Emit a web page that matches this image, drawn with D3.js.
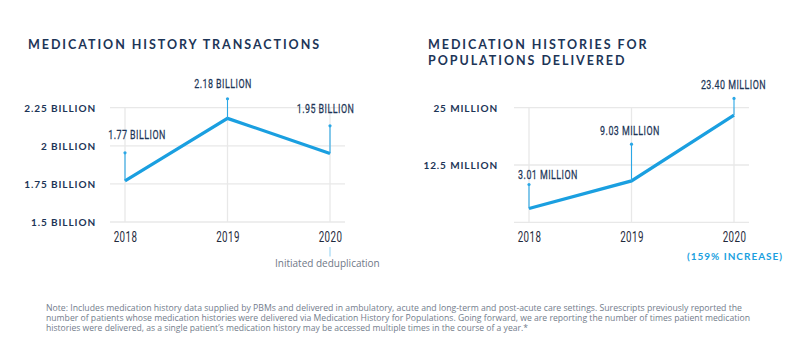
<!DOCTYPE html>
<html>
<head>
<meta charset="utf-8">
<script src="https://cdn.jsdelivr.net/npm/d3@7/dist/d3.min.js"></script>
<style>
  html, body { margin: 0; padding: 0; background: #ffffff; }
  svg { display: block; }
</style>
</head>
<body>
<svg id="chart" width="800" height="362"></svg>
<script>
// ---------------- DATA ----------------
const years = ["2018", "2019", "2020"];

const transactionsValues = [1.77, 2.18, 1.95];          // billions
const transactionsTicks = [1.5, 1.75, 2, 2.25];
const transactionsTickLabels = ["1.5 BILLION", "1.75 BILLION", "2 BILLION", "2.25 BILLION"];

const populationsValues = [3.01, 9.03, 23.40];          // millions
const populationsTicks = [0, 12.5, 25];
const populationsTickLabels = ["", "12.5 MILLION", "25 MILLION"];

const titleLeft = ["MEDICATION HISTORY TRANSACTIONS"];
const titleRight = ["MEDICATION HISTORIES FOR", "POPULATIONS DELIVERED"];
const noteLeft = "Initiated deduplication";
const noteRight = "(159% INCREASE)";
const footnoteLines = [
  "Note: Includes medication history data supplied by PBMs and delivered in ambulatory, acute and long-term and post-acute care settings. Surescripts previously reported the",
  "number of patients whose medication histories were delivered via Medication History for Populations. Going forward, we are reporting the number of times patient medication",
  "histories were delivered, as a single patient\u2019s medication history may be accessed multiple times in the course of a year.*"
];

// ---------------- STYLE ----------------
const NAVY = "#1d3557";
const YEAR = "#1f2a3c";
const BLUE = "#1a9fe0";
const PIN = "#2aa7e6";
const GRID = "#e8e8e8";
const GRAY = "#6f7887";
const CONDENSED = "Roboto, 'DejaVu Sans', sans-serif";
const GEO = "Lato, 'Open Sans', sans-serif";

const svg = d3.select("#chart");

function drawChart(cfg) {
  const g = svg.append("g");
  const x = d3.scalePoint().domain(years).range([cfg.x0, cfg.x1]);
  const y = d3.scaleLinear().domain(cfg.domain).range([cfg.yBottom, cfg.yTop]);

  // title
  const title = g.append("text")
    .attr("x", cfg.titleX).attr("y", cfg.titleY)
    .attr("fill", NAVY)
    .style("font-family", GEO).style("font-weight", 700)
    .style("font-size", "12.5px").style("letter-spacing", "1.95px");
  cfg.title.forEach((t, i) => {
    title.append("tspan").attr("x", cfg.titleX).attr("dy", i === 0 ? 0 : 16.3).text(t);
  });

  // horizontal gridlines
  g.append("g").selectAll("line").data(cfg.ticks).join("line")
    .attr("x1", cfg.x0 - 15).attr("x2", cfg.x1 + 15)
    .attr("y1", d => y(d)).attr("y2", d => y(d))
    .attr("stroke", GRID).attr("stroke-width", 1.3);

  // vertical gridlines
  g.append("g").selectAll("line").data(years).join("line")
    .attr("x1", d => x(d)).attr("x2", d => x(d))
    .attr("y1", y(cfg.domain[1])).attr("y2", y(cfg.domain[0]))
    .attr("stroke", GRID).attr("stroke-width", 1.3);

  // y-axis labels
  const yAxis = d3.axisLeft(y).tickValues(cfg.ticks)
    .tickFormat((d, i) => cfg.tickLabels[i]).tickSize(0).tickPadding(0);
  const ya = g.append("g").attr("transform", `translate(${cfg.labelRight},0)`).call(yAxis);
  ya.select(".domain").remove();
  ya.selectAll("text")
    .attr("fill", NAVY)
    .style("font-family", GEO).style("font-weight", 700)
    .style("font-size", "10px").style("letter-spacing", "0.9px")
    .attr("dy", "0.35em");

  // x-axis labels
  const xAxis = d3.axisBottom(x).tickSize(0).tickPadding(0);
  const xa = g.append("g").attr("transform", `translate(0,${cfg.yBottom + 20})`).call(xAxis);
  xa.select(".domain").remove();
  xa.selectAll(".tick text")
    .attr("y", 0).attr("dy", 0).attr("x", 0)
    .attr("fill", YEAR)
    .style("font-family", CONDENSED)
    .style("font-size", "14px")
    .style("letter-spacing", "0.6px")
    .attr("transform", "scale(0.7,1)");

  // line
  const line = d3.line().x((d, i) => x(years[i])).y(d => y(d));
  g.append("path").datum(cfg.values)
    .attr("d", line)
    .attr("fill", "none").attr("stroke", BLUE)
    .attr("stroke-width", 3.2).attr("stroke-linejoin", "miter");

  // pins + value labels
  cfg.values.forEach((v, i) => {
    const px = x(years[i]);
    const py = y(v);
    const top = py - cfg.pinLen[i];
    g.append("line")
      .attr("x1", px).attr("x2", px).attr("y1", top).attr("y2", py)
      .attr("stroke", PIN).attr("stroke-width", 1.1);
    g.append("circle").attr("cx", px).attr("cy", top).attr("r", 1.6).attr("fill", PIN);
    g.append("text")
      .attr("transform", `translate(${px + cfg.labelDx[i]},${top - cfg.labelGap[i]}) scale(0.66,1)`)
      .attr("text-anchor", "middle")
      .attr("fill", NAVY)
      .style("font-family", CONDENSED)
      .style("font-size", "13.5px")
      .style("letter-spacing", "0.7px")
      .style("stroke", NAVY).style("stroke-width", "0.25px")
      .text(cfg.format(v));
  });

  return { x, y, g };
}

const left = drawChart({
  x0: 125, x1: 330, yTop: 107.7, yBottom: 222,
  domain: [1.5, 2.25],
  ticks: transactionsTicks, tickLabels: transactionsTickLabels,
  values: transactionsValues,
  labelRight: 96,
  title: titleLeft, titleX: 28, titleY: 48.5,
  pinLen: [28, 19.6, 27.6],
  labelGap: [13.4, 11, 13],
  labelDx: [12, -4.5, -4.5],
  format: d => d3.format(".2f")(d) + " BILLION"
});

const right = drawChart({
  x0: 529, x1: 734, yTop: 107.7, yBottom: 222.3,
  domain: [0, 25],
  ticks: populationsTicks, tickLabels: populationsTickLabels,
  values: populationsValues,
  labelRight: 498,
  title: titleRight, titleX: 428, titleY: 48.5,
  pinLen: [24, 36.7, 16.6],
  labelGap: [5.6, 9, 9.7],
  labelDx: [19, -1.5, -0.5],
  format: d => d3.format(".2f")(d) + " MILLION"
});

// annotation under 2020 (left)
const lx = left.x("2020");
left.g.append("line")
  .attr("x1", lx).attr("x2", lx).attr("y1", 247).attr("y2", 256.5)
  .attr("stroke", "#8fd0f2").attr("stroke-width", 1);
left.g.append("text")
  .attr("x", 275).attr("y", 267)
  .attr("fill", GRAY)
  .style("font-family", "'Open Sans', sans-serif")
  .style("font-size", "10px")
  .text(noteLeft);

// annotation under 2020 (right)
right.g.append("text")
  .attr("x", 735).attr("y", 259.5)
  .attr("text-anchor", "middle")
  .attr("fill", BLUE)
  .style("font-family", GEO).style("font-weight", 700)
  .style("font-size", "10px").style("letter-spacing", "1px")
  .text(noteRight);

// footnote
const footWidths = [696, 704, 482];
svg.append("g").selectAll("text").data(footnoteLines).join("text")
  .attr("x", 46)
  .attr("y", (d, i) => 310.5 + i * 10.3)
  .attr("fill", "#737d8c")
  .style("font-family", "'Open Sans', sans-serif")
  .style("font-size", "8.2px")
  .attr("textLength", (d, i) => footWidths[i])
  .attr("lengthAdjust", "spacingAndGlyphs")
  .text(d => d);
</script>
</body>
</html>
